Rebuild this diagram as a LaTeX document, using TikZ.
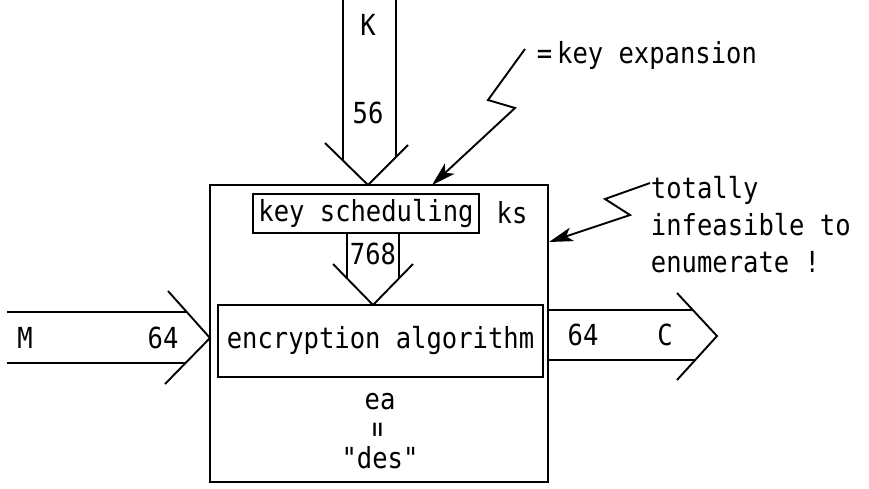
\documentclass[tikz,border=0pt]{standalone}
\usepackage{fontspec}
\newfontfamily\lettering[FakeStretch=0.88]{DejaVu Sans Mono}
\usetikzlibrary{arrows.meta}
\tikzset{
	lbl/.style={font=\lettering\fontsize{29}{37}\selectfont, inner sep=0pt},
	blk/.style={draw, lbl},
	callout/.style={arrows={-Stealth[length=24pt, width=14pt, inset=6pt]}},
}
\begin{document}
\begin{tikzpicture}[x=1pt, y=-1pt, line width=1.9pt]
	\useasboundingbox (0,0) rectangle (869,488);
	% boxes
	\node[blk, minimum width=338pt, minimum height=297pt] (des) at (379,333.5) {};
	\node[blk, minimum width=226pt, minimum height=39pt] (sched) at (366,213.5) {key scheduling};
	\node[blk, minimum width=325pt, minimum height=72pt] (encr) at (380.5,341) {encryption algorithm};
	% fat arrows
	\draw (343,0) -- (343,160.5) (396,0) -- (396,157) (325,143) -- (368,185) -- (408,145);
	\draw (347,233) -- (347,278.4) (399,233) -- (399,278.4) (333,264) -- (373,305) -- (413,264);
	\draw (7,312) -- (186.8,312) (7,363) -- (185.5,363) (168,291) -- (210,338) -- (165,384);
	\draw (548,310) -- (692.8,310) (548,360) -- (695.2,360) (677,293) -- (717,336) -- (677,380);
	% labels
	\node[lbl] (k) at (368,25) {K};
	\node[lbl] (kbits) at (368,113) {56};
	\node[lbl] (sbits) at (373,254) {768};
	\node[lbl] (ks) at (512,213) {ks};
	\node[lbl] (m) at (25,338) {M};
	\node[lbl] (mbits) at (163,338) {64};
	\node[lbl] (cbits) at (583,335) {64};
	\node[lbl] (c) at (665,335) {C};
	\node[lbl] (ea) at (380,402) {ea};
	\node[lbl, rotate=90] (eq) at (380,430) {=};
	\node[lbl] (name) at (380,458) {"des"};
	% remarks
	\coordinate (schedtip) at (432,185);
	\coordinate (boxtip) at (549,242);
	\node[lbl, anchor=west] (expn) at (536,55) {=\,key expansion};
	\node[lbl, anchor=north west, align=left] (infeas) at (650,175) {totally\\infeasible to\\enumerate !};
	\draw[callout] ([shift={(-11,-6)}]expn.west) -- (488,100) -- (515,108) -- (schedtip);
	\draw[callout] ([shift={(0,8)}]infeas.north west) -- (605,199) -- (630,215) -- (boxtip);
\end{tikzpicture}
\end{document}
